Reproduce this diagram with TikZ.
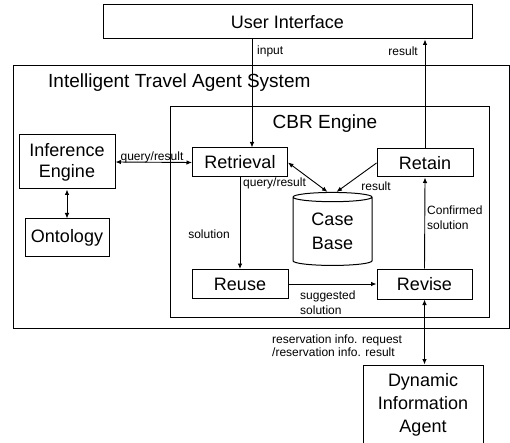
\documentclass[tikz,border=0pt]{standalone}
\usepackage{fontspec}
\setmainfont{Liberation Sans}
\usetikzlibrary{arrows.meta,shapes.geometric}

\tikzset{
  box/.style={draw, line width=1pt, inner sep=0pt, align=center,
    font=\fontsize{18}{21}\selectfont},
  frame/.style={draw, line width=1pt},
  lbl/.style={inner sep=0pt, align=left, font=\fontsize{12}{14.5}\selectfont},
  head/.style={inner sep=0pt, font=\fontsize{19}{21}\selectfont},
  link/.style={line width=0.9pt, -{Latex[length=5.5pt,width=4.5pt]}},
  twoway/.style={line width=0.9pt, {Latex[length=5.5pt,width=4.5pt]}-{Latex[length=5.5pt,width=4.5pt]}},
}

\begin{document}
\begin{tikzpicture}[x=1pt,y=-1pt]
    \clip (0,0) rectangle (510,443);

    % Outer system and CBR engine frames
    \draw[frame] (13,66) rectangle (509,328);
    \draw[frame] (170,107) rectangle (489,317);
    \node[head, anchor=west] (systitle) at (48,83) {Intelligent Travel Agent System};
    \node[head] (cbrtitle) at (325,124) {CBR Engine};

    % Boxes
    \node[box, minimum width=369pt, minimum height=34pt] (ui) at (287.5,22) {User Interface};
    \node[box, minimum width=96pt, minimum height=54pt] (inf) at (67,162) {Inference\\Engine};
    \node[box, minimum width=84pt, minimum height=37pt] (onto) at (67,237.5) {Ontology};
    \node[box, minimum width=95pt, minimum height=29pt] (retr) at (240,162.5) {Retrieval};
    \node[box, minimum width=96pt, minimum height=28pt] (retain) at (425,163) {Retain};
    \node[box, minimum width=96pt, minimum height=29pt] (reuse) at (240,284) {Reuse};
    \node[box, minimum width=95pt, minimum height=30pt] (revise) at (424.5,284) {Revise};
    \node[box, cylinder, shape border rotate=90, aspect=0.22,
          font=\fontsize{18}{24}\selectfont,
          minimum width=79pt, minimum height=73pt] (cb) at (332.5,231.5) {Case\\Base};
    \node[box, minimum width=120pt, minimum height=80pt,
          font=\fontsize{18}{23}\selectfont] (dia) at (423,405) {Dynamic\\Information\\Agent};

    % Connectors
    \draw[link] ([xshift=12pt]retr.north |- ui.south) -- ([xshift=12pt]retr.north);
    \draw[link] (retain.north) -- (retain.north |- ui.south);
    \draw[twoway] (retr.east) -- ([xshift=-5pt]cb.north);
    \draw[link] (retain.west) -- ([xshift=4pt]cb.north);
    \draw[twoway] (inf.east) -- (retr.west);
    \draw[twoway] (inf.south) -- (onto.north);
    \draw[link] (retr.south) -- (reuse.north);
    \draw[link] (reuse.east) -- (revise.west);
    \draw[link] (revise.north) -- (retain.south);
    \draw[twoway] (revise.south) -- (dia.north -| revise.south);

    % Labels
    \node[lbl, anchor=west] (lin) at (257,51) {input};
    \node[lbl, anchor=east] (lout) at (418,51) {result};
    \node[lbl] (lqr) at (152,157) {query/result};
    \node[lbl, anchor=west] (lqr2) at (243,183) {query/result};
    \node[lbl] (lres) at (376,186) {result};
    \node[lbl] (lsol) at (209,234) {solution};
    \node[lbl, anchor=west] (lconf) at (427,217.5) {Confirmed\\solution};
    \node[lbl, anchor=west] (lsugg) at (300,302.5) {suggested\\solution};
    \node[lbl, anchor=west, font=\fontsize{12}{13}\selectfont] (lresv) at (272,345.5)
        {reservation info. request\\/reservation info. result};
\end{tikzpicture}
\end{document}
